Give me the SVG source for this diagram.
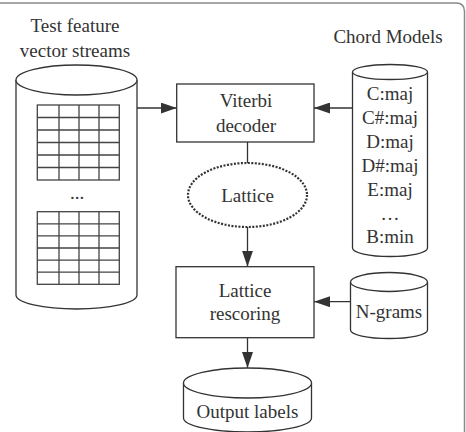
<svg xmlns="http://www.w3.org/2000/svg" width="466" height="432" viewBox="0 0 466 432">
<defs>
<style>
.ln{fill:none;stroke:#333;stroke-width:1.3}
.sh{fill:#fff;stroke:#333;stroke-width:1.3}
.gr{fill:none;stroke:#444;stroke-width:1.3}
.t{font-family:"Liberation Serif","Times New Roman",serif;font-size:19px;fill:#333;text-anchor:middle}
</style>
<marker id="ah" markerUnits="userSpaceOnUse" markerWidth="17" markerHeight="11" refX="16" refY="5.5" orient="auto">
<path d="M0,0 L16,5.5 L0,11 Z" fill="#333"/>
</marker>
</defs>
<rect width="466" height="432" fill="#fff"/>
<path d="M0,3 H456 Q464.5,3 464.5,11.5 V432" fill="none" stroke="#8a8a8a" stroke-width="1.5"/>

<g id="test-features">
<text class="t" x="75" y="32">Test feature</text>
<text class="t" x="75" y="57">vector streams</text>
<path class="sh" d="M16,80 V295 A60.5,14 0 0 0 137,295 V80"/>
<ellipse class="sh" cx="76.5" cy="80" rx="60.5" ry="15"/>
<g class="gr">
<rect x="37.3" y="105" width="82" height="75"/>
<path d="M59,105 V180 M79,105 V180 M99,105 V180 M37.3,117.5 H119.3 M37.3,130 H119.3 M37.3,142.5 H119.3 M37.3,155 H119.3 M37.3,167.5 H119.3"/>
<rect x="37.3" y="211.7" width="82" height="72.6"/>
<path d="M59,211.7 V284.3 M79,211.7 V284.3 M99,211.7 V284.3 M37.3,223.8 H119.3 M37.3,235.9 H119.3 M37.3,248 H119.3 M37.3,260.1 H119.3 M37.3,272.2 H119.3"/>
</g>
<text class="t" x="77" y="199">...</text>
</g>

<g id="chord-models">
<text class="t" x="388" y="43">Chord Models</text>
<path class="sh" d="M352.5,72 V248 A37.5,8.5 0 0 0 427.5,248 V72"/>
<ellipse class="sh" cx="390" cy="72" rx="37.5" ry="7.5"/>
<text class="t" x="390" y="100">C:maj</text>
<text class="t" x="390" y="124">C#:maj</text>
<text class="t" x="390" y="148">D:maj</text>
<text class="t" x="390" y="172">D#:maj</text>
<text class="t" x="390" y="196">E:maj</text>
<text class="t" x="390" y="220">…</text>
<text class="t" x="390" y="243">B:min</text>
</g>

<g id="viterbi">
<rect class="sh" x="176.7" y="84" width="137.3" height="58"/>
<text class="t" x="246" y="107">Viterbi</text>
<text class="t" x="246" y="132">decoder</text>
</g>

<g id="lattice">
<ellipse cx="247.5" cy="195" rx="59.5" ry="32" fill="#fff" stroke="#333" stroke-width="2.2" stroke-dasharray="2,1.5"/>
<text class="t" x="247.5" y="202">Lattice</text>
</g>

<g id="rescoring">
<rect class="sh" x="176" y="266.7" width="138" height="71"/>
<text class="t" x="245" y="297">Lattice</text>
<text class="t" x="245" y="320">rescoring</text>
</g>

<g id="ngrams">
<path class="sh" d="M350.5,282 V330 A38.5,8.5 0 0 0 427.5,330 V282"/>
<ellipse class="sh" cx="389" cy="282" rx="38.5" ry="9.5"/>
<text class="t" x="389" y="318">N-grams</text>
</g>

<g id="output">
<path class="sh" d="M183.5,383 V418 A64,14 0 0 0 311.5,418 V383"/>
<ellipse class="sh" cx="247.5" cy="383" rx="64" ry="15"/>
<text class="t" x="247.5" y="418">Output labels</text>
</g>

<g id="connectors">
<line class="ln" x1="137" y1="108" x2="176.7" y2="108" marker-end="url(#ah)"/>
<line class="ln" x1="352.5" y1="108" x2="314" y2="108" marker-end="url(#ah)"/>
<line class="ln" x1="247.5" y1="142" x2="247.5" y2="163"/>
<line class="ln" x1="247.5" y1="227" x2="247.5" y2="266.7" marker-end="url(#ah)"/>
<line class="ln" x1="350.5" y1="301.7" x2="314" y2="301.7" marker-end="url(#ah)"/>
<line class="ln" x1="247.5" y1="337.7" x2="247.5" y2="368" marker-end="url(#ah)"/>
</g>
</svg>
